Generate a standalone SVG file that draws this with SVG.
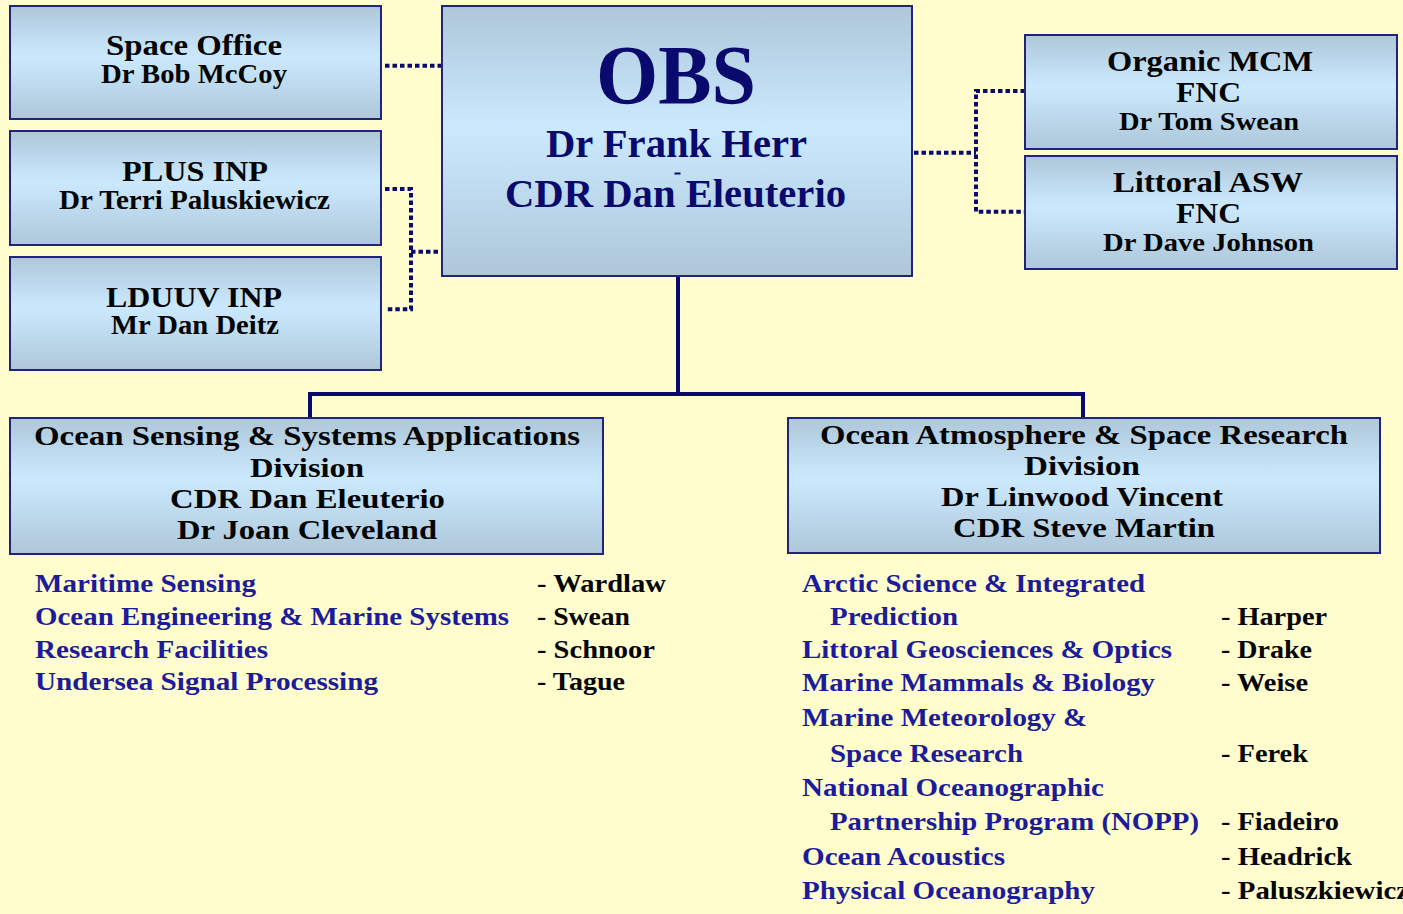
<svg xmlns="http://www.w3.org/2000/svg" width="1403" height="914" viewBox="0 0 1403 914">
<defs>
<linearGradient id="boxg" x1="0" y1="0" x2="0" y2="1">
<stop offset="0" stop-color="#AEC7D9"/>
<stop offset="0.45" stop-color="#CBE9FE"/>
<stop offset="1" stop-color="#AEC7D9"/>
</linearGradient>
<style>
.box{fill:url(#boxg);stroke:#22237A;stroke-width:2}
.t{font-family:"Liberation Serif","Times New Roman",serif;font-weight:bold}
.bk{fill:#050505}
.nv{fill:#0A0A6E}
.bl{fill:#1C1C9A}
.solid{fill:none;stroke:#0A0A6E;stroke-width:4}
.dot{fill:none;stroke:#0A0A6E;stroke-width:4;stroke-dasharray:4.5 3}
</style>
</defs>
<rect x="0" y="0" width="1403" height="914" fill="#FFFCCD"/>

<g id="connectors">
<path class="solid" d="M678 276 V396"/>
<path class="solid" d="M310 418 V394 H1083 V418"/>
<path class="dot" d="M385 65.7 H442"/>
<path class="dot" d="M385 189 H411 V309.3 H385"/>
<path class="dot" d="M411 251.7 H442"/>
<path class="dot" d="M914 152.7 H976"/>
<path class="dot" d="M1025 91 H976 V211.7 H1025"/>
</g>

<g id="node-space-office">
<rect class="box" x="10" y="6" width="371" height="113"/>
<text class="t bk" x="106" y="55" font-size="30" textLength="176" lengthAdjust="spacingAndGlyphs">Space Office</text>
<text class="t bk" x="101" y="83" font-size="27" textLength="186" lengthAdjust="spacingAndGlyphs">Dr Bob McCoy</text>
</g>

<g id="node-plus-inp">
<rect class="box" x="10" y="131" width="371" height="114"/>
<text class="t bk" x="122" y="181" font-size="30" textLength="146" lengthAdjust="spacingAndGlyphs">PLUS INP</text>
<text class="t bk" x="59" y="209" font-size="27" textLength="271" lengthAdjust="spacingAndGlyphs">Dr Terri Paluskiewicz</text>
</g>

<g id="node-lduuv-inp">
<rect class="box" x="10" y="257" width="371" height="113"/>
<text class="t bk" x="106" y="306.5" font-size="30" textLength="176" lengthAdjust="spacingAndGlyphs">LDUUV INP</text>
<text class="t bk" x="111" y="334" font-size="27" textLength="168" lengthAdjust="spacingAndGlyphs">Mr Dan Deitz</text>
</g>

<g id="node-obs">
<rect class="box" x="442" y="6" width="470" height="270"/>
<text class="t nv" x="596" y="104" font-size="84" textLength="160" lengthAdjust="spacingAndGlyphs">OBS</text>
<text class="t nv" x="546" y="157" font-size="39" textLength="261" lengthAdjust="spacingAndGlyphs">Dr Frank Herr</text>
<rect x="674.5" y="172.5" width="6" height="2" fill="#0A0A6E"/>
<text class="t nv" x="505" y="207" font-size="40" textLength="341" lengthAdjust="spacingAndGlyphs">CDR Dan Eleuterio</text>
</g>

<g id="node-organic-mcm">
<rect class="box" x="1025" y="35" width="372" height="114"/>
<text class="t bk" x="1107" y="71" font-size="30" textLength="206" lengthAdjust="spacingAndGlyphs">Organic MCM</text>
<text class="t bk" x="1176" y="101.5" font-size="30" textLength="65" lengthAdjust="spacingAndGlyphs">FNC</text>
<text class="t bk" x="1119" y="130" font-size="26" textLength="180" lengthAdjust="spacingAndGlyphs">Dr Tom Swean</text>
</g>

<g id="node-littoral-asw">
<rect class="box" x="1025" y="156" width="372" height="113"/>
<text class="t bk" x="1113" y="191.5" font-size="30" textLength="190" lengthAdjust="spacingAndGlyphs">Littoral ASW</text>
<text class="t bk" x="1176" y="222.5" font-size="30" textLength="65" lengthAdjust="spacingAndGlyphs">FNC</text>
<text class="t bk" x="1103" y="250.5" font-size="26" textLength="211" lengthAdjust="spacingAndGlyphs">Dr Dave Johnson</text>
</g>

<g id="node-ossa">
<rect class="box" x="10" y="418" width="593" height="136"/>
<text class="t bk" x="34" y="445" font-size="28" textLength="546" lengthAdjust="spacingAndGlyphs">Ocean Sensing &amp; Systems Applications</text>
<text class="t bk" x="250" y="476.5" font-size="28" textLength="114" lengthAdjust="spacingAndGlyphs">Division</text>
<text class="t bk" x="170" y="507.5" font-size="28" textLength="275" lengthAdjust="spacingAndGlyphs">CDR Dan Eleuterio</text>
<text class="t bk" x="177" y="538.5" font-size="28" textLength="260" lengthAdjust="spacingAndGlyphs">Dr Joan Cleveland</text>
</g>

<g id="node-oasr">
<rect class="box" x="788" y="418" width="592" height="135"/>
<text class="t bk" x="820" y="444" font-size="28" textLength="528" lengthAdjust="spacingAndGlyphs">Ocean Atmosphere &amp; Space Research</text>
<text class="t bk" x="1024" y="475" font-size="28" textLength="116" lengthAdjust="spacingAndGlyphs">Division</text>
<text class="t bk" x="941" y="506" font-size="28" textLength="282" lengthAdjust="spacingAndGlyphs">Dr Linwood Vincent</text>
<text class="t bk" x="953" y="537" font-size="28" textLength="262" lengthAdjust="spacingAndGlyphs">CDR Steve Martin</text>
</g>

<g id="ossa-branches">
<text class="t bl" x="35" y="592" font-size="26" textLength="221" lengthAdjust="spacingAndGlyphs">Maritime Sensing</text>
<text class="t bl" x="35" y="625" font-size="26" textLength="474" lengthAdjust="spacingAndGlyphs">Ocean Engineering &amp; Marine Systems</text>
<text class="t bl" x="35" y="657.5" font-size="26" textLength="233" lengthAdjust="spacingAndGlyphs">Research Facilities</text>
<text class="t bl" x="35" y="690" font-size="26" textLength="343" lengthAdjust="spacingAndGlyphs">Undersea Signal Processing</text>
<text class="t bk" x="537" y="592" font-size="26" textLength="129" lengthAdjust="spacingAndGlyphs">- Wardlaw</text>
<text class="t bk" x="537" y="625" font-size="26" textLength="93" lengthAdjust="spacingAndGlyphs">- Swean</text>
<text class="t bk" x="537" y="657.5" font-size="26" textLength="118" lengthAdjust="spacingAndGlyphs">- Schnoor</text>
<text class="t bk" x="537" y="690" font-size="26" textLength="88" lengthAdjust="spacingAndGlyphs">- Tague</text>
</g>

<g id="oasr-branches">
<text class="t bl" x="802" y="592.3" font-size="26" textLength="343" lengthAdjust="spacingAndGlyphs">Arctic Science &amp; Integrated</text>
<text class="t bl" x="830" y="624.5" font-size="26" textLength="128" lengthAdjust="spacingAndGlyphs">Prediction</text>
<text class="t bl" x="802" y="658.3" font-size="26" textLength="370" lengthAdjust="spacingAndGlyphs">Littoral Geosciences &amp; Optics</text>
<text class="t bl" x="802" y="691.3" font-size="26" textLength="353" lengthAdjust="spacingAndGlyphs">Marine Mammals &amp; Biology</text>
<text class="t bl" x="802" y="725.7" font-size="26" textLength="285" lengthAdjust="spacingAndGlyphs">Marine Meteorology &amp;</text>
<text class="t bl" x="830" y="762" font-size="26" textLength="193" lengthAdjust="spacingAndGlyphs">Space Research</text>
<text class="t bl" x="802" y="795.7" font-size="26" textLength="302" lengthAdjust="spacingAndGlyphs">National Oceanographic</text>
<text class="t bl" x="830" y="830.3" font-size="26" textLength="369" lengthAdjust="spacingAndGlyphs">Partnership Program (NOPP)</text>
<text class="t bl" x="802" y="865.2" font-size="26" textLength="203" lengthAdjust="spacingAndGlyphs">Ocean Acoustics</text>
<text class="t bl" x="802" y="899" font-size="26" textLength="293" lengthAdjust="spacingAndGlyphs">Physical Oceanography</text>
<text class="t bk" x="1221" y="624.5" font-size="26" textLength="106" lengthAdjust="spacingAndGlyphs">- Harper</text>
<text class="t bk" x="1221" y="658.3" font-size="26" textLength="91" lengthAdjust="spacingAndGlyphs">- Drake</text>
<text class="t bk" x="1221" y="691.3" font-size="26" textLength="87" lengthAdjust="spacingAndGlyphs">- Weise</text>
<text class="t bk" x="1221" y="762" font-size="26" textLength="87" lengthAdjust="spacingAndGlyphs">- Ferek</text>
<text class="t bk" x="1221" y="830.3" font-size="26" textLength="118" lengthAdjust="spacingAndGlyphs">- Fiadeiro</text>
<text class="t bk" x="1221" y="865.2" font-size="26" textLength="131" lengthAdjust="spacingAndGlyphs">- Headrick</text>
<text class="t bk" x="1221" y="899" font-size="26" textLength="188" lengthAdjust="spacingAndGlyphs">- Paluszkiewicz</text>
</g>
</svg>
